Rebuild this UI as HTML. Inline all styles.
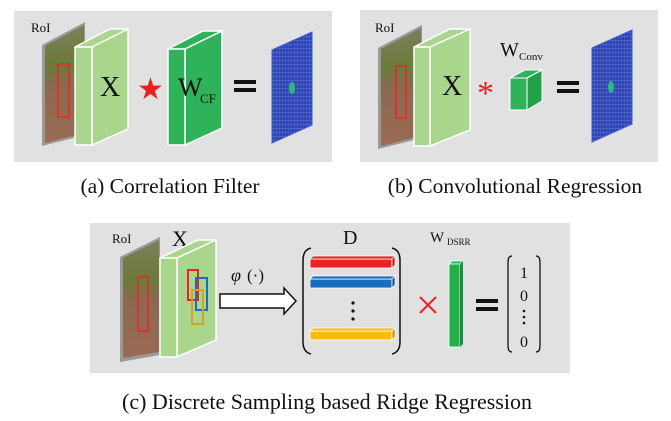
<!DOCTYPE html>
<html><head><style>body{margin:0;background:#fff}svg{display:block}text{font-family:"Liberation Serif",serif;fill:#111}</style></head><body>
<svg width="671" height="421" viewBox="0 0 671 421" xmlns="http://www.w3.org/2000/svg">
<defs>
<pattern id="g" width="3" height="4" patternUnits="userSpaceOnUse"><rect width="3" height="4" fill="#2c42b8"/><rect width="3" height="0.6" fill="#6478d0"/><rect width="0.6" height="4" fill="#5064c2"/></pattern>
<linearGradient id="img" x1="0" y1="0" x2="0" y2="1"><stop offset="0" stop-color="#7d7f5a"/><stop offset="0.35" stop-color="#6b7a3a"/><stop offset="0.5" stop-color="#8a6a50"/><stop offset="1" stop-color="#9a6a55"/></linearGradient>
</defs>
<rect x="14" y="11" width="318" height="151" fill="#e0e1e0"/>
<rect x="360" y="10" width="298" height="152" fill="#e0e1e0"/>
<rect x="90" y="223" width="480" height="150" fill="#e0e1e0"/>
<!-- (a) -->
<text x="31" y="32" font-size="13">RoI</text>
<polygon points="42,45 85,22 85,135 42,146" fill="#999"/>
<polygon points="45,46 84,25 84,133 45,143" fill="url(#img)"/>
<rect x="58" y="64" width="11" height="53" fill="none" stroke="#e22" stroke-width="1.5"/>
<polygon points="75,47 110,29 128,29 92,47" fill="#a9d58d" stroke="#fff" stroke-width="1.5"/>
<polygon points="92,47 128,29 128,129 92,145" fill="#a9d58d" stroke="#fff" stroke-width="1.5"/>
<rect x="75" y="47" width="17" height="98" fill="#a9d58d" stroke="#fff" stroke-width="1.5"/>
<text x="100" y="96" font-size="28">X</text>
<text x="137" y="99" font-size="30" style="fill:#e82020">★</text>
<polygon points="168,49 203,31 222,31 185,49" fill="#2fb35a" stroke="#fff" stroke-width="1.5"/>
<polygon points="185,49 222,31 222,128 185,145" fill="#2fb35a" stroke="#fff" stroke-width="1.5"/>
<rect x="168" y="49" width="17" height="96" fill="#2fb35a" stroke="#fff" stroke-width="1.5"/>
<text x="178" y="96" font-size="26">W</text><text x="200" y="103" font-size="13">CF</text>
<rect x="234" y="80" width="22" height="4" fill="#111"/><rect x="234" y="88" width="22" height="4" fill="#111"/>
<polygon points="272,50 312,32 312,125 272,143" fill="url(#g)" stroke="#3a5ad0"/>
<ellipse cx="292" cy="88" rx="3" ry="6" fill="#2fb87a"/>
<text x="170" y="193" font-size="21.5" text-anchor="middle">(a) Correlation Filter</text>
<!-- (b) -->
<text x="375" y="32" font-size="13">RoI</text>
<polygon points="378,48 422,25 422,138 378,149" fill="#999"/>
<polygon points="381,49 421,28 421,136 381,146" fill="url(#img)"/>
<rect x="396" y="66" width="10" height="52" fill="none" stroke="#e22" stroke-width="1.5"/>
<polygon points="414,47 450,29 470,29 430,47" fill="#a9d58d" stroke="#fff" stroke-width="1.5"/>
<polygon points="430,47 470,29 470,130 430,146" fill="#a9d58d" stroke="#fff" stroke-width="1.5"/>
<rect x="414" y="47" width="16" height="99" fill="#a9d58d" stroke="#fff" stroke-width="1.5"/>
<text x="442" y="95" font-size="28">X</text>
<text x="477" y="104" font-size="34" style="fill:#e82020">*</text>
<text x="500" y="56" font-size="20">W</text><text x="519" y="60" font-size="11">Conv</text>
<polygon points="510,78 525,70 542,70 527,78" fill="#2fb35a" stroke="#fff"/>
<polygon points="527,78 542,70 542,101 527,110" fill="#22a04a" stroke="#fff"/>
<rect x="510" y="78" width="17" height="32" fill="#2fb35a" stroke="#fff"/>
<rect x="557" y="81" width="22" height="4" fill="#111"/><rect x="557" y="89" width="22" height="4" fill="#111"/>
<polygon points="592,48 632,30 632,124 592,142" fill="url(#g)" stroke="#3a5ad0"/>
<ellipse cx="611" cy="87" rx="3" ry="6" fill="#2fb87a"/>
<text x="515" y="193" font-size="21.5" text-anchor="middle">(b) Convolutional Regression</text>
<!-- (c) -->
<text x="112" y="243" font-size="13">RoI</text>
<polygon points="120,257 160,237 160,355 120,362" fill="#999"/>
<polygon points="123,258 159,240 159,352 123,358" fill="url(#img)"/>
<rect x="138" y="277" width="10" height="54" fill="none" stroke="#e22" stroke-width="1.5"/>
<text x="172" y="246" font-size="22">X</text>
<polygon points="160,258 198,240 216,240 177,258" fill="#a9d58d" stroke="#fff" stroke-width="1.5"/>
<polygon points="177,258 216,240 216,340 177,357" fill="#a9d58d" stroke="#fff" stroke-width="1.5"/>
<rect x="160" y="258" width="17" height="99" fill="#a9d58d" stroke="#fff" stroke-width="1.5"/>
<rect x="188" y="270" width="10" height="30" fill="none" stroke="#e22" stroke-width="2"/>
<rect x="196" y="278" width="11" height="32" fill="none" stroke="#1a6cc0" stroke-width="2"/>
<rect x="192" y="290" width="11" height="34" fill="none" stroke="#d9a020" stroke-width="2"/>
<polygon points="220,294 284,294 284,288 296,301 284,314 284,308 220,308" fill="#fff" stroke="#111" stroke-width="1.5"/>
<text x="231" y="281" font-size="18" font-style="italic">φ</text><text x="247" y="281" font-size="17">(·)</text>
<path d="M311,248 Q303,250 303,260 L303,342 Q303,352 311,354" fill="none" stroke="#111" stroke-width="1.5"/>
<path d="M392,248 Q400,250 400,260 L400,342 Q400,352 392,354" fill="none" stroke="#111" stroke-width="1.5"/>
<text x="343" y="244" font-size="20">D</text>
<g stroke="#fff" stroke-width="0.8">
<rect x="310" y="259" width="82" height="9" fill="#e82424"/><polygon points="310,259 313,256 395,256 392,259" fill="#e82424"/><polygon points="392,259 395,256 395,265 392,268" fill="#b01818"/>
<rect x="310" y="279" width="82" height="9" fill="#1a6cc0"/><polygon points="310,279 313,276 395,276 392,279" fill="#1a6cc0"/><polygon points="392,279 395,276 395,285 392,288" fill="#10508f"/>
<rect x="310" y="331" width="82" height="9" fill="#f6bc12"/><polygon points="310,331 313,328 395,328 392,331" fill="#f6bc12"/><polygon points="392,331 395,328 395,337 392,340" fill="#c7900a"/>
</g>
<circle cx="353" cy="303" r="1.6" fill="#111"/><circle cx="353" cy="311" r="1.6" fill="#111"/><circle cx="353" cy="319" r="1.6" fill="#111"/>
<path d="M420,297 L436,313 M436,297 L420,313" stroke="#e22" stroke-width="2"/>
<text x="430" y="242" font-size="15">W</text><text x="447" y="245" font-size="9">DSRR</text>
<polygon points="449,264 452,261 463,261 460,264" fill="#2fb35a" stroke="#fff" stroke-width="0.8"/>
<rect x="449" y="264" width="11" height="83" fill="#22b04a" stroke="#fff" stroke-width="0.8"/>
<polygon points="460,264 463,261 463,344 460,347" fill="#189040"/>
<rect x="476" y="299" width="22" height="4" fill="#111"/><rect x="476" y="307" width="22" height="4" fill="#111"/>
<path d="M512,256 Q508,256 508,262 L508,346 Q508,352 512,352" fill="none" stroke="#111" stroke-width="1.3"/>
<path d="M536,256 Q540,256 540,262 L540,346 Q540,352 536,352" fill="none" stroke="#111" stroke-width="1.3"/>
<text x="524" y="278" font-size="16" text-anchor="middle">1</text>
<text x="524" y="301" font-size="16" text-anchor="middle">0</text>
<circle cx="524" cy="311" r="1.3" fill="#111"/><circle cx="524" cy="317" r="1.3" fill="#111"/><circle cx="524" cy="323" r="1.3" fill="#111"/>
<text x="524" y="347" font-size="16" text-anchor="middle">0</text>
<text x="327" y="409" font-size="22" text-anchor="middle">(c) Discrete Sampling based Ridge Regression</text>
</svg>
</body></html>
